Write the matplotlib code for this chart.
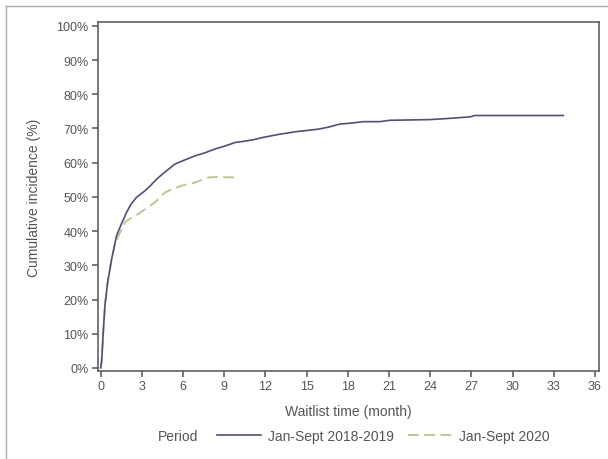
import matplotlib.pyplot as plt
from matplotlib.lines import Line2D

# -----------------------------------------------------------------------------
# Data (months, cumulative incidence in %)
# -----------------------------------------------------------------------------

months_2018_2019 = [0, 0.07, 0.19, 0.31, 0.51, 0.8, 1.16, 1.5, 1.89, 2.2, 2.62,
                    3.23, 3.6, 4.08, 4.6, 5.41, 6.0, 6.87, 7.6, 8.32, 9.0, 9.78,
                    10.5, 11.1, 11.84, 13.0, 14.28, 15.85, 16.6, 17.43, 18.3,
                    19.13, 20.34, 21.07, 22.5, 23.98, 25.2, 26.9, 27.26, 33.7]
incidence_2018_2019 = [0, 1.8, 10.4, 18.2, 25.0, 31.8, 38.7, 42.0, 45.5, 47.8,
                       49.9, 51.8, 53.2, 55.2, 57.0, 59.6, 60.6, 62.0, 62.9,
                       64.0, 64.8, 65.9, 66.3, 66.7, 67.4, 68.3, 69.1, 69.8,
                       70.4, 71.3, 71.6, 72.0, 72.0, 72.4, 72.5, 72.6, 72.9,
                       73.4, 73.8, 73.8]

months_2020 = [0, 0.07, 0.19, 0.31, 0.51, 0.8, 1.04, 1.4, 1.77, 2.2, 2.74,
               3.3, 3.95, 4.68, 5.3, 5.9, 6.87, 7.4, 7.84, 8.5, 9.94]
incidence_2020 = [0, 1.8, 10.4, 18.2, 25.0, 31.8, 36.2, 39.5, 42.6, 43.8, 45.0,
                  46.6, 48.4, 51.3, 52.4, 53.3, 54.2, 55.0, 55.7, 55.8, 55.7]

x_ticks = list(range(0, 37, 3))
y_ticks = list(range(0, 101, 10))

label_2018_2019 = "Jan-Sept 2018-2019"
label_2020 = "Jan-Sept 2020"

BLUE = "#4f4f7f"
GREEN = "#b3c78a"
GREY = "#555555"

plt.rcParams["font.family"] = ["Liberation Sans", "DejaVu Sans"]

# -----------------------------------------------------------------------------
# Figure
# -----------------------------------------------------------------------------

fig = plt.figure(figsize=(6.08, 4.6), dpi=100)
ax = fig.add_axes([0.1617, 0.192, 0.8233, 0.757])

ax.plot(months_2020, incidence_2020, color=GREEN, linewidth=1.3,
        linestyle=(0, (6, 3)))
ax.plot(months_2018_2019, incidence_2018_2019, color=BLUE, linewidth=1.2)

ax.set_xlim(-0.17, 36.29)
ax.set_ylim(-0.8, 101)
ax.set_xticks(x_ticks)
ax.set_yticks(y_ticks)
ax.set_yticklabels([f"{v}%" for v in y_ticks])

for spine in ax.spines.values():
    spine.set_color(GREY)
    spine.set_linewidth(1.1)
ax.tick_params(direction="out", length=4, width=1.1, color=GREY,
               labelcolor=GREY, labelsize=9, pad=3)

ax.set_xlabel("Waitlist time (month)", fontsize=10, color=GREY, labelpad=8)
ax.set_ylabel("Cumulative incidence (%)", fontsize=10, color=GREY, labelpad=11)

# Legend below the axis with a "Period" label to the left
fig.text(158 / 608, 1 - 437 / 460, "Period", fontsize=10, color=GREY,
         ha="left", va="center")
handles = [Line2D([], [], color=BLUE, linewidth=1.2),
           Line2D([], [], color=GREEN, linewidth=1.3, linestyle=(0, (6, 3)))]
leg = fig.legend(handles, [label_2018_2019, label_2020], ncol=2,
                 loc="center left", bbox_to_anchor=(210 / 608, 1 - 437 / 460),
                 frameon=False, fontsize=10, handlelength=3.2,
                 handletextpad=0.5, columnspacing=1.0, borderpad=0)
for text in leg.get_texts():
    text.set_color(GREY)

# Thin outer border along the top and left of the picture
fig.add_artist(Line2D([6 / 608, 6 / 608], [0, 1 - 7 / 460],
                      transform=fig.transFigure, color="#aaaaaa", linewidth=1))
fig.add_artist(Line2D([6 / 608, 1], [1 - 7 / 460, 1 - 7 / 460],
                      transform=fig.transFigure, color="#aaaaaa", linewidth=1))

fig.savefig("out.png", dpi=100)
plt.close(fig)
